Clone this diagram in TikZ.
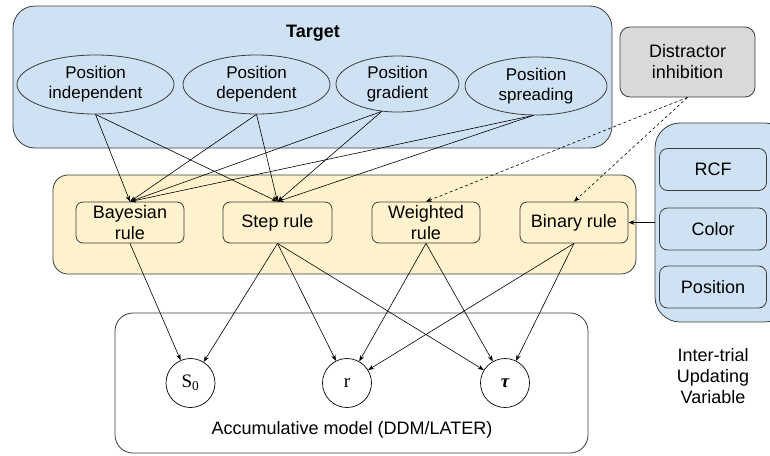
\documentclass[tikz,border=0pt]{standalone}
\usepackage{fontspec}
\setmainfont{Liberation Sans}
\newfontfamily\circfont{Liberation Serif}
\usepackage{tikz}
\usetikzlibrary{shapes.geometric,arrows.meta}

\definecolor{tgtblue}{RGB}{207,226,243}
\definecolor{rulecream}{RGB}{255,242,204}
\definecolor{distgray}{RGB}{217,217,217}
\definecolor{edgegray}{RGB}{60,60,60}

\begin{document}
\begin{tikzpicture}[x=1pt,y=1pt,yscale=-1,xscale=1,
  font=\fontsize{18}{21}\selectfont,
  groupbox/.style={draw=edgegray,line width=0.8pt,inner sep=0pt},
  targetell/.style={draw=edgegray,line width=0.8pt,ellipse,inner sep=0pt,align=center,font=\fontsize{17}{20}\selectfont},
  rulebox/.style={draw=edgegray,line width=0.8pt,rounded corners=7pt,minimum width=108pt,minimum height=41pt,inner sep=0pt,align=center},
  varbox/.style={draw=edgegray,fill=tgtblue,line width=0.8pt,rounded corners=8pt,minimum width=107pt,minimum height=42pt,inner sep=0pt},
  varcirc/.style={draw=black,line width=0.7pt,circle,minimum size=49pt,inner sep=0pt,font=\circfont\fontsize{19}{21}\selectfont},
  link/.style={-{Stealth[length=6pt,width=4.5pt]},line width=0.6pt},
  dlink/.style={link,dash pattern=on 3pt off 2.5pt}]
\clip (0,0) rectangle (770,455);
\useasboundingbox (0,0) rectangle (770,455);

%Shape: Rectangle (target group)
\node (target) at (312.5,77) [groupbox,fill=tgtblue,rounded corners=22pt,minimum width=599pt,minimum height=142pt] {};
% Text Node
\node (tgttitle) at (313,33) {\bfseries Target};

%Shape: Ellipse
\node (pind) at (95.5,84.5) [targetell,minimum width=157pt,minimum height=59pt] {Position\\independent};
%Shape: Ellipse
\node (pdep) at (256.5,84.5) [targetell,minimum width=147pt,minimum height=59pt] {Position\\dependent};
%Shape: Ellipse
\node (pgrad) at (397.5,84) [targetell,minimum width=123pt,minimum height=56pt] {Position\\gradient};
%Shape: Ellipse
\node (pspread) at (536,86) [targetell,minimum width=142pt,minimum height=58pt] {Position\\spreading};

%Shape: Rectangle (distractor)
\node (distract) at (687.5,62) [groupbox,fill=distgray,rounded corners=10pt,minimum width=135pt,minimum height=70pt,align=center] {Distractor\\inhibition};

%Shape: Rectangle (rule group)
\node (rules) at (344.5,224.5) [groupbox,fill=rulecream,rounded corners=15pt,minimum width=583pt,minimum height=99pt] {};
\node (bayes) at (130,222.5) [rulebox] {Bayesian\\rule};
\node (step) at (277.5,222.5) [rulebox,minimum width=109pt] {Step rule};
\node (weight) at (426,222.5) [rulebox] {Weighted\\rule};
\node (binary) at (574,222.5) [rulebox] {Binary rule};

%Shape: Rectangle (inter-trial group)
\node (update) at (722.5,222.5) [groupbox,fill=tgtblue,rounded corners=25pt,minimum width=135pt,minimum height=199pt] {};
\node (rcf) at (713,169.5) [varbox] {RCF};
\node (color) at (713,229) [varbox] {Color};
\node (posvar) at (713,287) [varbox] {Position};
% Text Node
\node (updtext) at (713,376.5) [align=center] {Inter-trial\\Updating\\Variable};

%Shape: Rectangle (accumulative model)
\node (accum) at (351.5,383) [groupbox,rounded corners=18pt,minimum width=473pt,minimum height=140pt] {};
\node (s0) at (190.5,383) [varcirc] {S\textsubscript{0}};
\node (rate) at (347,383) [varcirc] {r};
\node (tau) at (505,383) [varcirc] {\bfseries\itshape τ};
% Text Node
\node (acctext) at (352,430) {Accumulative model (DDM/LATER)};

%Straight Lines (target -> rules)
\draw [link] (pind.south) -- (bayes.north);
\draw [link] (pind.south) -- (step.north);
\draw [link] (pdep.south) -- (bayes.north);
\draw [link] (pdep.south) -- (step.north);
\draw [link] (pgrad.240) -- (bayes.north);
\draw [link] (pgrad.240) -- (step.north);
\draw [link] (pspread.265) -- (bayes.north);
\draw [link] (pspread.265) -- (step.north);

%Straight Lines (distractor -> rules)
\draw [dlink] (distract.south) -- (weight.north);
\draw [dlink] (distract.south) -- (binary.north);

%Straight Lines (update -> binary)
\draw [link] (update.west) -- (binary.east);

%Straight Lines (rules -> accumulative model)
\draw [link] (bayes.south) -- (s0);
\draw [link] (step.south) -- (s0);
\draw [link] (step.south) -- (rate);
\draw [link] (step.south) -- (tau);
\draw [link] (weight.south) -- (rate);
\draw [link] (weight.south) -- (tau);
\draw [link] (binary.south) -- (rate);
\draw [link] (binary.south) -- (tau);
\end{tikzpicture}
\end{document}
